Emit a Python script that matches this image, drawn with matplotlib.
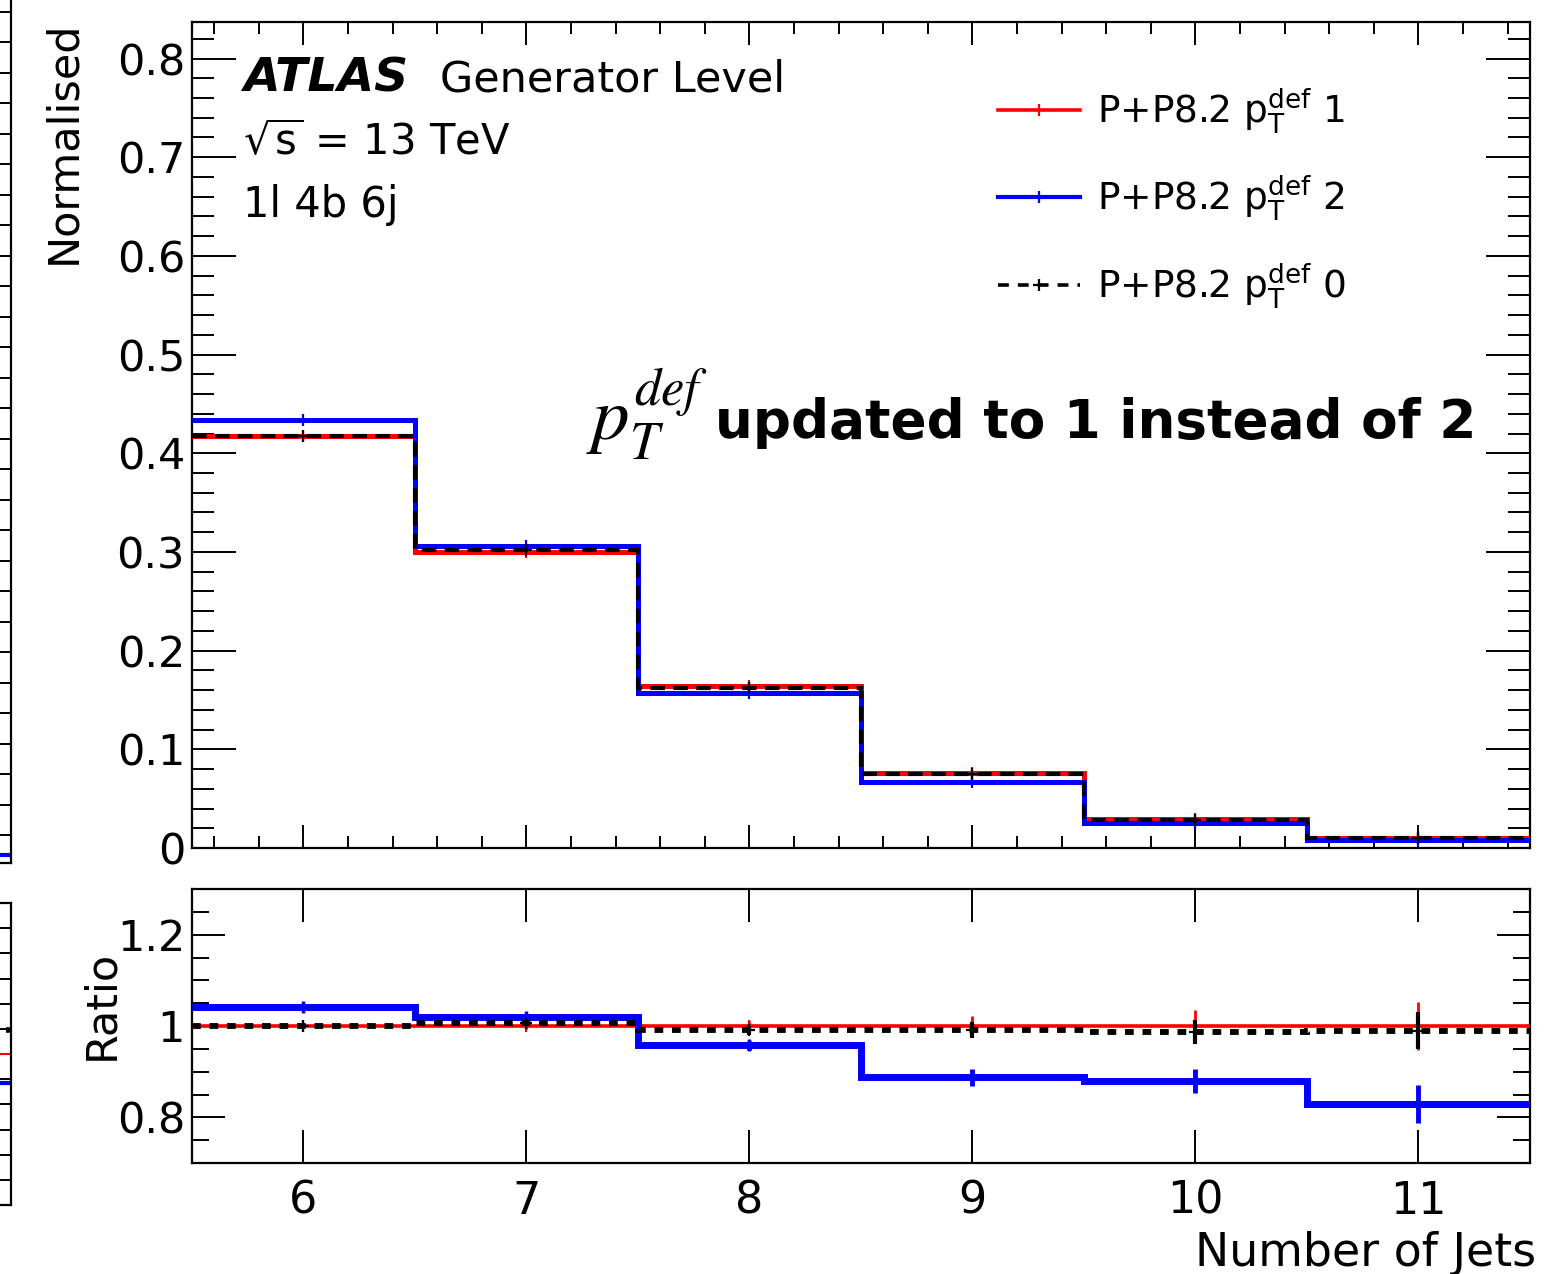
import matplotlib
matplotlib.use("Agg")
import matplotlib.pyplot as plt
from matplotlib.ticker import MultipleLocator, FuncFormatter, NullLocator
from matplotlib.lines import Line2D
import numpy as np

plt.rcParams['font.family'] = ['DejaVu Sans']
plt.rcParams['mathtext.fontset'] = 'dejavusans'

# ---------------- data ----------------
bin_edges = [5.5, 6.5, 7.5, 8.5, 9.5, 10.5, 11.5]
bin_centers = [6, 7, 8, 9, 10, 11]
pt1_values = [0.417, 0.300, 0.164, 0.0755, 0.0290, 0.0100]   # P+P8.2 pTdef 1 (red, reference)
pt2_values = [0.434, 0.306, 0.157, 0.0670, 0.0255, 0.0083]   # P+P8.2 pTdef 2 (blue)
pt0_values = [0.417, 0.302, 0.1625, 0.0748, 0.0286, 0.0099]  # P+P8.2 pTdef 0 (black dashed)
pt1_relerr = [0.004, 0.006, 0.010, 0.022, 0.035, 0.053]
pt2_relerr = [0.004, 0.006, 0.010, 0.020, 0.030, 0.050]
pt0_relerr = [0.004, 0.006, 0.010, 0.018, 0.027, 0.040]
labels = [r'P+P8.2 $\mathrm{p}_{\mathrm{T}}^{\mathrm{def}}$ 1',
          r'P+P8.2 $\mathrm{p}_{\mathrm{T}}^{\mathrm{def}}$ 2',
          r'P+P8.2 $\mathrm{p}_{\mathrm{T}}^{\mathrm{def}}$ 0']
x_ticks = [6, 7, 8, 9, 10, 11]
# neighbouring (cropped) plot at the left edge
side_ratio_levels = [1.048, 1.0, 0.942]
side_top_level = 8.0

W, H = 1558, 1274
fig = plt.figure(figsize=(W / 100, H / 100), dpi=100)
fig.patch.set_facecolor('white')


def fx(px):
    return px / W


def fy(py):
    return 1 - py / H


ax = fig.add_axes([fx(192), fy(848), fx(1530 - 192), (848 - 22) / H])
rax = fig.add_axes([fx(192), fy(1163), fx(1530 - 192), (1163 - 889) / H])

edges = np.array(bin_edges)
cent = np.array(bin_centers)
v1, v2, v0 = np.array(pt1_values), np.array(pt2_values), np.array(pt0_values)
e1, e2, e0 = np.array(pt1_relerr), np.array(pt2_relerr), np.array(pt0_relerr)

red, blue = '#ff0000', '#0000ff'

# ---------------- main panel ----------------
ax.stairs(v1, edges, baseline=None, color=red, lw=3.6, zorder=3)
ax.errorbar(cent, v1, yerr=v1 * e1, fmt='+', color=red, ms=9, mew=1.6, elinewidth=1.6, zorder=3)
ax.stairs(v2, edges, baseline=None, color=blue, lw=3.6, zorder=4)
ax.errorbar(cent, v2, yerr=v2 * e2, fmt='+', color=blue, ms=9, mew=1.6, elinewidth=1.6, zorder=4)
ax.stairs(v0, edges, baseline=None, color='black', lw=3.0, linestyle=(0, (3.5, 2.0)), zorder=5)
ax.errorbar(cent, v0, yerr=v0 * e0, fmt='+', color='black', ms=9, mew=1.6, elinewidth=1.6, zorder=5)

ax.set_xlim(5.5, 11.5)
ax.set_ylim(0, 0.837)
ax.xaxis.set_major_locator(MultipleLocator(1))
ax.xaxis.set_minor_locator(MultipleLocator(0.2))
ax.yaxis.set_major_locator(MultipleLocator(0.1))
ax.yaxis.set_minor_locator(MultipleLocator(0.02))
ax.yaxis.set_major_formatter(FuncFormatter(lambda v, p: '%g' % round(v, 3)))
ax.tick_params(axis='both', which='both', direction='in', top=True, right=True, width=1.4)
ax.tick_params(axis='x', which='major', length=16.5, labelbottom=False)
ax.tick_params(axis='x', which='minor', length=8.6)
ax.tick_params(axis='y', which='major', length=32, labelsize=31, pad=5)
ax.tick_params(axis='y', which='minor', length=16)
for s in ax.spines.values():
    s.set_linewidth(1.6)

# ---------------- ratio panel ----------------
r1 = v1 / v1
r2 = v2 / v1
r0 = v0 / v1
rax.stairs(r1, edges, baseline=None, color=red, lw=2.6, zorder=3)
rax.errorbar(cent, r1, yerr=r1 * e1, fmt='+', color=red, ms=9, mew=1.6, elinewidth=2.0, zorder=3)
rax.stairs(r2, edges, baseline=None, color=blue, lw=5.0, zorder=4)
rax.errorbar(cent, r2, yerr=r2 * e2, fmt='+', color=blue, ms=9, mew=2.5, elinewidth=3.5, zorder=4)
rax.stairs(r0, edges, baseline=None, color='black', lw=4.2, linestyle=(0, (1.5, 1.5)), zorder=5)
rax.errorbar(cent, r0, yerr=r0 * e0, fmt='+', color='black', ms=9, mew=1.6, elinewidth=3.0, zorder=5)

rax.set_xlim(5.5, 11.5)
rax.set_ylim(0.7, 1.3)
rax.set_xticks(x_ticks)
rax.xaxis.set_minor_locator(NullLocator())
rax.yaxis.set_major_locator(MultipleLocator(0.2))
rax.yaxis.set_minor_locator(MultipleLocator(0.05))
rax.yaxis.set_major_formatter(FuncFormatter(lambda v, p: '%g' % round(v, 3)))
rax.tick_params(axis='both', which='both', direction='in', top=True, right=True, width=1.4)
rax.tick_params(axis='x', which='major', length=23.8, labelsize=32, pad=12)
rax.tick_params(axis='y', which='major', length=23.8, labelsize=31, pad=5)
rax.tick_params(axis='y', which='minor', length=12)
for s in rax.spines.values():
    s.set_linewidth(1.6)

# ---------------- axis titles ----------------
fig.text(fx(63), fy(20), 'Normalised', rotation=90, ha='center', va='top', fontsize=31)
fig.text(fx(101), fy(1005), 'Ratio', rotation=90, ha='center', va='center', fontsize=31)
fig.text(fx(1536), fy(1266), 'Number of Jets', ha='right', va='baseline', fontsize=33)

# ---------------- labels ----------------
fig.text(fx(243), fy(92), 'ATLAS', fontsize=34, fontweight='bold', fontstyle='italic', va='baseline')
fig.text(fx(440), fy(92), 'Generator Level', fontsize=31, va='baseline')
fig.text(fx(243), fy(155), r'$\sqrt{\mathrm{s}}$ = 13 TeV', fontsize=30, va='baseline')
fig.text(fx(243), fy(217), '1l 4b 6j', fontsize=30, va='baseline')

fig.text(fx(708), fy(440), r'$p_T^{def}$', fontsize=54, math_fontfamily='stix', ha='right', va='baseline')
fig.text(fx(1476), fy(438), 'updated to 1 instead of 2', fontsize=38.3, fontweight='bold', ha='right', va='baseline')

# ---------------- legend ----------------
handles = [
    Line2D([], [], color=red, lw=2.6, marker='+', ms=9, mew=1.6),
    Line2D([], [], color=blue, lw=3.0, marker='+', ms=9, mew=1.6),
    Line2D([], [], color='black', lw=2.6, linestyle=(0, (3.0, 2.5)), marker='+', ms=9, mew=1.6),
]
ax.legend(handles, labels, loc='upper left', bbox_to_anchor=(fx(998), fy(86)),
          bbox_transform=fig.transFigure, frameon=False, fontsize=27,
          handlelength=2.19, handletextpad=0.45, labelspacing=1.02,
          borderpad=0, borderaxespad=0, numpoints=1)

# ---------------- cropped neighbouring plot at left edge ----------------
sax = fig.add_axes([fx(11 - 300), fy(863), fx(300), (863 + 70) / H])
sax.set_xlim(0, 1)
sax.set_ylim(0, 863 + 70)
sax.yaxis.set_major_locator(MultipleLocator(30.5, offset=28))
sax.set_xticks([])
sax.tick_params(axis='y', which='major', direction='in', left=False, right=True,
                labelleft=False, length=8, width=1.4)
sax.hlines([side_top_level], 0.96, 1.0, color=blue, lw=3)
for s in sax.spines.values():
    s.set_linewidth(1.6)

sax2 = fig.add_axes([fx(11 - 300), fy(1205), fx(300), (1205 - 903) / H])
sax2.set_xlim(0, 1)
sax2.set_ylim(0.7, 1.3)
sax2.yaxis.set_major_locator(MultipleLocator(0.05))
sax2.set_xticks([])
sax2.tick_params(axis='y', which='major', direction='in', left=False, right=True,
                 labelleft=False, length=8, width=1.4)
sax2.hlines([side_ratio_levels[0]], 0.985, 1.0, color='black', lw=4)
sax2.hlines([side_ratio_levels[1]], 0.96, 1.0, color=red, lw=1.5)
sax2.hlines([side_ratio_levels[2]], 0.96, 1.0, color=blue, lw=3)
for s in sax2.spines.values():
    s.set_linewidth(1.6)

fig.savefig('out.png', dpi=100, facecolor='white')
